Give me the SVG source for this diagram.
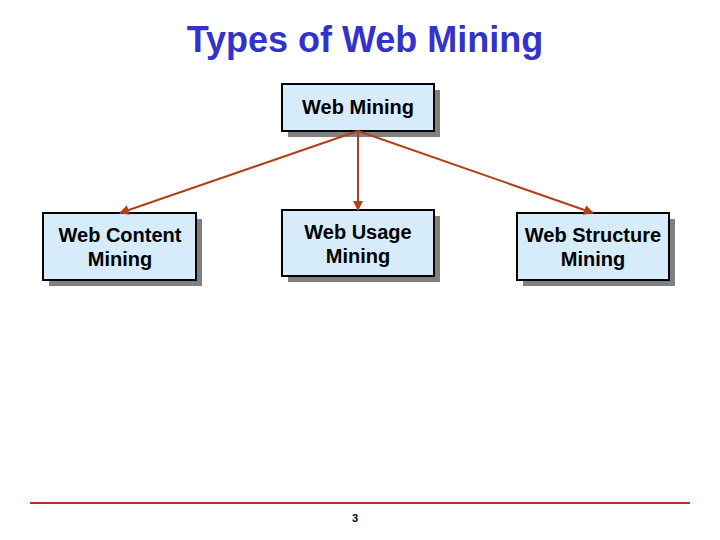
<svg xmlns="http://www.w3.org/2000/svg" width="720" height="540" viewBox="0 0 720 540">
<style>
.sh{fill:#808080}
.bx{fill:#d6ecfa;stroke:#000;stroke-width:2}
.t{font-family:"Liberation Sans",Arial,sans-serif;font-size:20px;font-weight:bold;fill:#000;text-anchor:middle}
.c{stroke:#b0401c;stroke-width:2;fill:none;marker-end:url(#ah)}
</style>
<defs><marker id="ah" viewBox="0 0 10 10" refX="9" refY="5" markerWidth="5" markerHeight="5" orient="auto"><path d="M0,0L10,5L0,10z" fill="#b0401c"/></marker></defs>
<rect width="720" height="540" fill="#fff"/>
<text x="365" y="52" font-family="Liberation Sans,Arial,sans-serif" font-size="36" font-weight="bold" fill="#3333cc" text-anchor="middle">Types of Web Mining</text>
<g id="n-root"><rect class="sh" x="288" y="90" width="152" height="47"/><rect class="bx" x="282" y="84" width="152" height="47"/><text class="t" x="358" y="114">Web Mining</text></g>
<g id="n-content"><rect class="sh" x="49" y="219" width="153" height="67"/><rect class="bx" x="43" y="213" width="153" height="67"/><text class="t" x="120" y="242">Web Content</text><text class="t" x="120" y="266">Mining</text></g>
<g id="n-usage"><rect class="sh" x="288" y="216" width="152" height="66"/><rect class="bx" x="282" y="210" width="152" height="66"/><text class="t" x="358" y="239">Web Usage</text><text class="t" x="358" y="263">Mining</text></g>
<g id="n-structure"><rect class="sh" x="523" y="219" width="152" height="67"/><rect class="bx" x="517" y="213" width="152" height="67"/><text class="t" x="593" y="242">Web Structure</text><text class="t" x="593" y="266">Mining</text></g>
<g id="connectors">
<line class="c" x1="358" y1="131" x2="120" y2="213"/>
<line class="c" x1="358" y1="131" x2="358" y2="210"/>
<line class="c" x1="358" y1="131" x2="593" y2="213"/>
</g>
<line x1="30" y1="503" x2="690" y2="503" stroke="#b0302a" stroke-width="2"/>
<text x="355" y="522" font-family="Liberation Sans,Arial,sans-serif" font-size="11" font-weight="bold" text-anchor="middle">3</text>
</svg>
